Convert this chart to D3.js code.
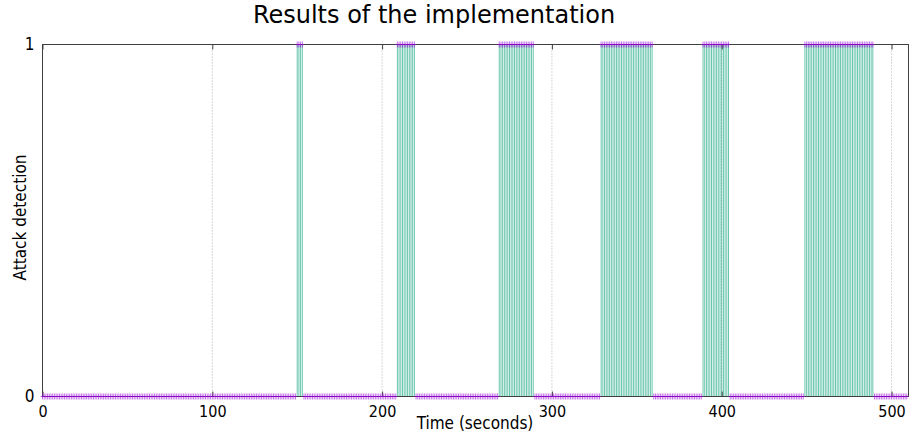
<!DOCTYPE html>
<html>
<head>
<meta charset="utf-8">
<script src="https://cdn.jsdelivr.net/npm/d3@7"></script>
<style>
  body { margin: 0; background: #fff; }
  text { font-family: "DejaVu Sans Condensed", "DejaVu Sans", sans-serif; fill: #000; }
</style>
</head>
<body>
<div class="chart"></div>
<script>
// attack windows (seconds, inclusive)
const attackStart = [150, 209, 269, 329, 389, 449];
const attackEnd = [153, 219, 289, 359, 404, 489];
const lastSample = 509;
const xTicks = [0, 100, 200, 300, 400, 500];
const yTicks = [0, 1];

const w = 909, h = 436;
const margin = {left: 42.5, right: 0.5, top: 44.5, bottom: 39.5};

// one sample per second, 1 inside an attack window, 0 otherwise
const samples = d3.range(0, lastSample + 1).map(t => ({
    t: t,
    v: attackStart.some((s, i) => t >= s && t <= attackEnd[i]) ? 1 : 0
}));

const x = d3.scaleLinear().domain([0, 510]).range([margin.left, w - margin.right]);
const y = d3.scaleLinear().domain([0, 1]).range([h - margin.bottom, margin.top]);

const svg = d3.select(".chart")
  .append("svg")
  .attr("width", w)
  .attr("height", h);

// dotted grid
svg.append("g")
  .selectAll("line")
  .data(xTicks.filter(d => d > 0))
  .join("line")
    .attr("x1", d => x(d)).attr("x2", d => x(d))
    .attr("y1", y(1)).attr("y2", y(0))
    .attr("stroke", "#b0b0b0")
    .attr("stroke-dasharray", "1,2");

// impulses
svg.append("g")
  .selectAll("line")
  .data(samples.filter(d => d.v > 0))
  .join("line")
    .attr("x1", d => x(d.t)).attr("x2", d => x(d.t))
    .attr("y1", y(0)).attr("y2", d => y(d.v))
    .attr("stroke", "#009e73")
    .attr("stroke-opacity", 0.6)
    .attr("stroke-width", 1);

// frame
svg.append("rect")
  .attr("x", x(0)).attr("y", y(1))
  .attr("width", x(510) - x(0)).attr("height", y(0) - y(1))
  .attr("fill", "none")
  .attr("stroke", "#404040");

// axes with inward ticks, top and bottom
const bottomAxis = d3.axisBottom(x).tickValues(xTicks).tickSizeInner(-5).tickSizeOuter(0).tickPadding(9);
const gb = svg.append("g").attr("transform", `translate(0,${y(0)})`).call(bottomAxis);
gb.select(".domain").remove();
gb.selectAll("line").attr("stroke", "#404040");
gb.selectAll("text").attr("font-size", 16).attr("font-family", null);

const topAxis = d3.axisTop(x).tickValues(xTicks).tickSizeInner(-5).tickSizeOuter(0).tickFormat("");
const gt = svg.append("g").attr("transform", `translate(0,${y(1)})`).call(topAxis);
gt.select(".domain").remove();
gt.selectAll("line").attr("stroke", "#404040");

const leftAxis = d3.axisLeft(y).tickValues(yTicks).tickFormat(d3.format("d")).tickSize(0).tickPadding(8);
const gl = svg.append("g").attr("transform", `translate(${x(0)},0)`).call(leftAxis);
gl.select(".domain").remove();
gl.selectAll("text").attr("font-size", 17).attr("font-family", null);

// point markers (+)
svg.append("g")
  .selectAll("path")
  .data(samples)
  .join("path")
    .attr("d", d => {
        const cx = x(d.t), cy = y(d.v);
        return `M${cx - 2},${cy}H${cx + 2}M${cx},${cy - 3}V${cy + 3}`;
    })
    .attr("stroke", "#9400d3")
    .attr("stroke-opacity", 0.55)
    .attr("stroke-width", 1)
    .attr("fill", "none");

// titles
svg.append("text")
  .attr("x", 434).attr("y", 23)
  .attr("text-anchor", "middle")
  .attr("font-size", 24)
  .style("font-family", "'DejaVu Sans', sans-serif")
  .text("Results of the implementation");

svg.append("text")
  .attr("x", 475).attr("y", 429)
  .attr("text-anchor", "middle")
  .attr("font-size", 17)
  .text("Time (seconds)");

svg.append("text")
  .attr("transform", `translate(26,${(y(0) + y(1)) / 2 - 3}) rotate(-90)`)
  .attr("text-anchor", "middle")
  .attr("font-size", 17)
  .text("Attack detection");
</script>
</body>
</html>
